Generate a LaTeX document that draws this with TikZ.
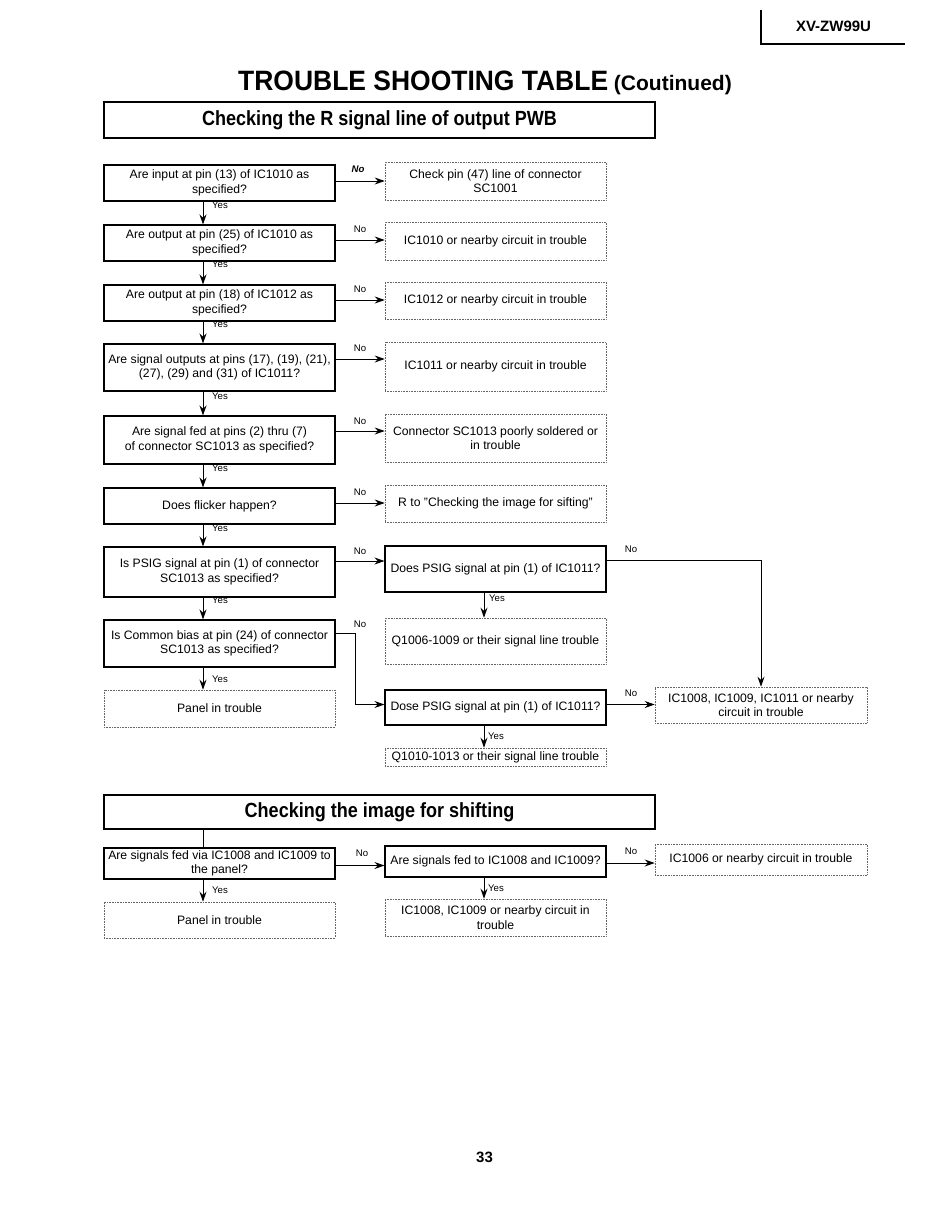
\documentclass[tikz,border=0pt]{standalone}
\usepackage{fontspec}
\setmainfont{Liberation Sans}
\usetikzlibrary{arrows.meta,calc}
\begin{document}
\begin{tikzpicture}[x=1pt,y=-1pt,
  every node/.style={inner sep=1pt},
  qbox/.style={draw, line width=1.1pt, minimum width=231pt, align=center, font=\fontsize{12.2}{14.5}\selectfont},
  rbox/.style={draw=black!60, densely dotted, line width=0.6pt, minimum width=221pt, align=center, font=\fontsize{12.2}{14.5}\selectfont},
  wbox/.style={rbox, minimum width=212pt},
  sbox/.style={draw, line width=1.1pt, minimum width=221pt, align=center, font=\fontsize{12.2}{14.5}\selectfont},
  pbox/.style={rbox, minimum width=231pt},
  hdr/.style={draw, line width=1.8pt, minimum width=551pt, font=\fontsize{20.5}{22}\selectfont\bfseries},
  arr/.style={-{Stealth[length=10pt,width=7pt]}, line width=1pt},
  conn/.style={line width=1pt},
  lbl/.style={font=\fontsize{9.6}{10}\selectfont, inner sep=0pt},
]
\fill[white] (0,0) rectangle (938,1205);
\useasboundingbox (0,0) rectangle (938,1205);

% page header
\node[font=\fontsize{15}{16}\selectfont\bfseries, inner sep=0pt] (model) at (833.5,26) {XV-ZW99U};
\coordinate (mt) at (761,10);
\coordinate (mc) at (761,44);
\coordinate (me) at (905,44);
\draw[line width=1.6pt] (mt) -- (mc) -- (me);

\node[anchor=base west, inner sep=0pt] (title) at (238,90) {\fontsize{28}{30}\selectfont\bfseries\scalebox{0.945}[1]{TROUBLE SHOOTING TABLE}\fontsize{21}{24}\selectfont\ (Coutinued)};

% section 1
\node[hdr, minimum height=36pt] (h1) at (379.5,120) {\scalebox{0.88}[1]{Checking the R signal line of output PWB}};

\coordinate (lx) at (203,0);
\coordinate (rx) at (484,0);

\node[qbox, minimum height=36pt] (A1) at (219.5,183) {Are input at pin (13) of IC1010 as\\specified?};
\node[qbox, minimum height=36pt] (A2) at (219.5,243) {Are output at pin (25) of IC1010 as\\specified?};
\node[qbox, minimum height=36pt] (A3) at (219.5,303) {Are output at pin (18) of IC1012 as\\specified?};
\node[qbox, minimum height=47pt] (A4) at (219.5,367.5) {Are signal outputs at pins (17), (19), (21),\\(27), (29) and (31) of IC1011?};
\node[qbox, minimum height=48pt] (A5) at (219.5,440) {Are signal fed at pins (2) thru (7)\\of connector SC1013 as specified?};
\node[qbox, minimum height=36pt] (A6) at (219.5,506) {Does flicker happen?};
\node[qbox, minimum height=50pt] (A7) at (219.5,572) {Is PSIG signal at pin (1) of connector\\SC1013 as specified?};
\node[qbox, minimum height=47pt] (A8) at (219.5,643.5) {Is Common bias at pin (24) of connector\\SC1013 as specified?};
\node[pbox, minimum height=37pt] (P1) at (219.5,708.5) {Panel in trouble};

\node[rbox, minimum height=38pt] (R1) at (495.5,181) {Check pin (47) line of connector\\SC1001};
\node[rbox, minimum height=38pt] (R2) at (495.5,241) {IC1010 or nearby circuit in trouble};
\node[rbox, minimum height=37pt] (R3) at (495.5,300.5) {IC1012 or nearby circuit in trouble};
\node[rbox, minimum height=49pt] (R4) at (495.5,366.5) {IC1011 or nearby circuit in trouble};
\node[rbox, minimum height=48pt] (R5) at (495.5,438) {Connector SC1013 poorly soldered or\\in trouble};
\node[rbox, minimum height=37pt] (R6) at (495.5,503.5) {R to "Checking the image for sifting"};
\node[sbox, minimum height=46pt] (B1) at (495.5,569) {Does PSIG signal at pin (1) of IC1011?};
\node[rbox, minimum height=46pt] (Q1) at (495.5,641) {Q1006-1009 or their signal line trouble};
\node[sbox, minimum height=35pt] (B2) at (495.5,707.5) {Dose PSIG signal at pin (1) of IC1011?};
\node[rbox, minimum height=18pt, inner sep=0pt] (Q2) at (495.5,757) {Q1010-1013 or their signal line trouble};
\node[wbox, minimum height=36pt] (RIC) at (761,705) {IC1008, IC1009, IC1011 or nearby\\circuit in trouble};

% Yes arrows, left column
\draw[arr] (A1.south -| lx) -- (A2.north -| lx);
\draw[arr] (A2.south -| lx) -- (A3.north -| lx);
\draw[arr] (A3.south -| lx) -- (A4.north -| lx);
\draw[arr] (A4.south -| lx) -- (A5.north -| lx);
\draw[arr] (A5.south -| lx) -- (A6.north -| lx);
\draw[arr] (A6.south -| lx) -- (A7.north -| lx);
\draw[arr] (A7.south -| lx) -- (A8.north -| lx);
\draw[arr] (A8.south -| lx) -- (P1.north -| lx);
\node[lbl] (y1) at (220,205) {Yes};
\node[lbl] (y2) at (220,264) {Yes};
\node[lbl] (y3) at (220,324) {Yes};
\node[lbl] (y4) at (220,396) {Yes};
\node[lbl] (y5) at (220,468) {Yes};
\node[lbl] (y6) at (220,528) {Yes};
\node[lbl] (y7) at (220,600) {Yes};
\node[lbl] (y8) at (220,679) {Yes};

% Yes arrows, middle column
\draw[arr] (B1.south -| rx) -- (Q1.north -| rx);
\draw[arr] (B2.south -| rx) -- (Q2.north -| rx);
\node[lbl] (y9) at (497,598) {Yes};
\node[lbl] (y10) at (496,736) {Yes};

% No arrows
\coordinate (o1) at ($(A1.east)+(0,-2)$);
\coordinate (o2) at ($(A2.east)+(0,-3)$);
\coordinate (o3) at ($(A3.east)+(0,-3)$);
\coordinate (o4) at ($(A4.east)+(0,-8.5)$);
\coordinate (o5) at ($(A5.east)+(0,-9)$);
\coordinate (o6) at ($(A6.east)+(0,-3)$);
\coordinate (o7) at ($(A7.east)+(0,-11)$);
\coordinate (o8) at ($(A8.east)+(0,-10.5)$);
\draw[arr] (o1) -- (o1 -| R1.west);
\draw[arr] (o2) -- (o2 -| R2.west);
\draw[arr] (o3) -- (o3 -| R3.west);
\draw[arr] (o4) -- (o4 -| R4.west);
\draw[arr] (o5) -- (o5 -| R5.west);
\draw[arr] (o6) -- (o6 -| R6.west);
\draw[arr] (o7) -- (o7 -| B1.west);
\coordinate (b2in) at ($(B2.west)+(0,-3)$);
\draw[arr] (o8) -- ++(20,0) |- (b2in);
\node[lbl] (n1) at (358,169) {\textbf{\textit{No}}};
\node[lbl] (n2) at (360,229) {No};
\node[lbl] (n3) at (360,289) {No};
\node[lbl] (n4) at (360,348) {No};
\node[lbl] (n5) at (360,421) {No};
\node[lbl] (n6) at (360,492) {No};
\node[lbl] (n7) at (360,551) {No};
\node[lbl] (n8) at (360,624) {No};

\coordinate (ob1) at ($(B1.east)+(0,-9)$);
\draw[arr] (ob1) -- (ob1 -| RIC.north) -- (RIC.north);
\coordinate (ob2) at ($(B2.east)+(0,-3)$);
\draw[arr] (ob2) -- (ob2 -| RIC.west);
\node[lbl] (n9) at (631,549) {No};
\node[lbl] (n10) at (631,693) {No};

% section 2
\node[hdr, minimum height=34pt] (h2) at (379.5,812) {\scalebox{0.88}[1]{Checking the image for shifting}};

\node[qbox, minimum height=31pt, inner sep=0pt] (C1) at (219.5,863.5) {Are signals fed via IC1008 and IC1009 to\\the panel?};
\node[sbox, minimum height=31pt] (C2) at (495.5,861.5) {Are signals fed to IC1008 and IC1009?};
\node[wbox, minimum height=31pt] (RC) at (761,859.5) {IC1006 or nearby circuit in trouble};
\node[pbox, minimum height=36pt] (P2) at (219.5,920) {Panel in trouble};
\node[rbox, minimum height=37pt] (RC2) at (495.5,917.5) {IC1008, IC1009 or nearby circuit in\\trouble};

\draw[conn] (h2.south -| lx) -- (C1.north -| lx);
\coordinate (oc1) at ($(C1.east)+(0,2)$);
\draw[arr] (oc1) -- (oc1 -| C2.west);
\coordinate (oc2) at ($(C2.east)+(0,1.5)$);
\draw[arr] (oc2) -- (oc2 -| RC.west);
\draw[arr] (C1.south -| lx) -- (P2.north -| lx);
\draw[arr] (C2.south -| rx) -- (RC2.north -| rx);
\node[lbl] (n11) at (362,853) {No};
\node[lbl] (n12) at (631,851) {No};
\node[lbl] (y11) at (220,890) {Yes};
\node[lbl] (y12) at (496,888) {Yes};

\node[font=\fontsize{15}{16}\selectfont\bfseries] (pg) at (484.5,1157) {33};
\end{tikzpicture}
\end{document}
